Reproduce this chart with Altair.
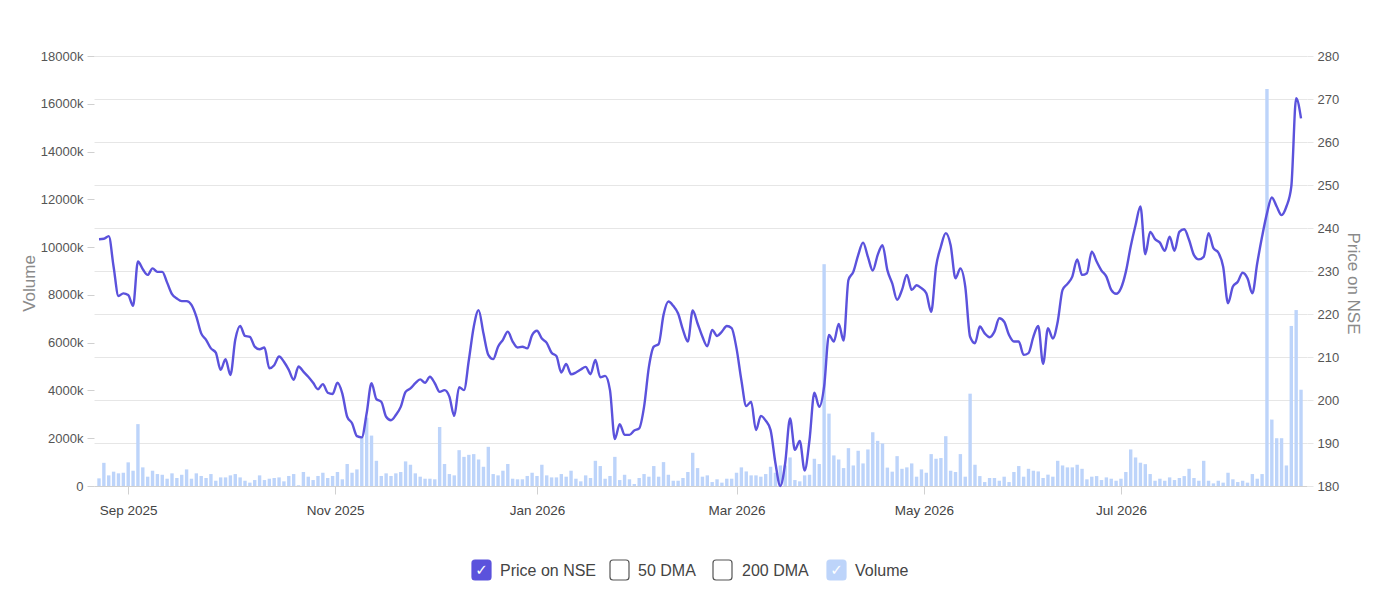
import altair as alt
import pandas as pd

# ---- data (one value per trading day) ----
price = [
    237.4, 237.5, 238.1, 231.0, 224.2, 224.8, 224.4, 221.9, 232.2, 230.4,
    229.1, 230.6, 229.8, 229.8, 227.3, 224.6, 223.6, 223.0, 223.0, 222.1,
    219.4, 215.5, 214.0, 212.0, 211.0, 207.0, 209.5, 205.8, 214.0, 217.2,
    214.9, 214.7, 212.4, 211.8, 212.2, 207.4, 208.1, 210.1, 208.9, 207.0,
    204.7, 207.8, 206.6, 205.4, 204.0, 202.5, 203.7, 201.7, 201.4, 204.0,
    201.5, 196.1, 194.6, 191.6, 191.3, 196.9, 203.9, 200.2, 199.6, 196.1,
    195.3, 196.5, 198.4, 201.9, 202.7, 203.9, 204.8, 204.0, 205.4, 203.9,
    201.9, 202.3, 200.8, 196.3, 203.0, 202.3, 209.3, 217.0, 220.9, 215.5,
    210.5, 209.5, 212.4, 214.0, 215.9, 213.6, 212.2, 212.4, 212.0, 215.1,
    216.1, 214.3, 213.3, 211.0, 210.2, 206.4, 208.4, 206.0, 206.4, 207.1,
    207.7, 206.0, 209.3, 205.3, 205.6, 202.3, 190.9, 194.4, 191.9, 191.9,
    192.9, 193.4, 198.4, 207.7, 212.4, 213.0, 219.8, 222.9, 221.9, 220.1,
    216.3, 213.6, 220.8, 217.8, 214.7, 212.5, 216.3, 214.9, 215.9, 217.2,
    216.7, 212.0, 204.6, 198.6, 199.6, 193.0, 196.3, 195.2, 193.0, 185.3,
    180.0, 185.3, 195.7, 188.4, 190.5, 183.6, 190.7, 201.7, 198.4, 203.1,
    215.1, 213.6, 217.7, 213.8, 227.9, 229.8, 233.7, 236.6, 233.3, 230.1,
    233.7, 236.0, 230.2, 227.1, 223.3, 225.6, 229.1, 225.6, 226.7, 226.0,
    224.8, 220.5, 231.0, 235.7, 238.8, 236.0, 228.3, 230.6, 226.4, 214.7,
    213.2, 217.1, 215.5, 214.6, 215.9, 219.0, 218.2, 215.1, 213.6, 213.6,
    210.5, 210.9, 214.7, 217.2, 208.4, 216.7, 214.3, 218.2, 225.6, 227.0,
    228.7, 232.7, 229.1, 229.5, 234.5, 232.2, 230.1, 228.7, 225.6, 224.7,
    226.0, 229.8, 235.7, 240.7, 245.0, 233.9, 239.1, 237.4, 236.6, 234.7,
    238.0, 234.7, 239.1, 239.7, 237.2, 233.7, 232.7, 233.3, 238.8, 235.3,
    234.3, 231.0, 222.5, 226.4, 227.5, 229.6, 228.3, 224.8, 231.8, 238.0,
    243.4, 247.1, 245.0, 243.0, 245.0, 249.6, 270.2, 265.5,
]

volume_k = [
    320, 970, 445, 600, 530, 555, 990, 640, 2590, 780,
    390, 640, 500, 470, 305, 530, 335, 470, 695, 305,
    530, 420, 335, 500, 220, 360, 360, 445, 500, 360,
    220, 140, 250, 445, 250, 305, 335, 360, 195, 420,
    500, 30, 585, 390, 250, 420, 555, 335, 420, 585,
    280, 920, 555, 695, 2060, 2860, 2110, 1055, 420, 530,
    420, 530, 585, 1030, 890, 530, 390, 305, 305, 280,
    2470, 920, 500, 445, 1500, 1220, 1305, 1335, 1110, 805,
    1640, 500, 445, 640, 920, 305, 280, 280, 420, 555,
    420, 890, 445, 360, 360, 500, 390, 640, 305, 195,
    445, 335, 1055, 835, 305, 420, 1220, 250, 470, 280,
    85, 335, 500, 390, 835, 390, 1000, 470, 220, 220,
    335, 585, 1390, 750, 390, 445, 165, 280, 140, 305,
    305, 555, 780, 610, 445, 445, 390, 500, 805, 555,
    860, 860, 1195, 250, 195, 445, 470, 1140, 920, 9285,
    3030, 1280, 1110, 750, 1585, 860, 1475, 945, 1530, 2250,
    1890, 1780, 770, 600, 1250, 720, 780, 945, 390, 695,
    555, 1335, 1140, 1170, 2085, 640, 585, 1335, 390, 3865,
    890, 415, 165, 335, 335, 220, 390, 165, 585, 835,
    390, 720, 640, 610, 335, 475, 390, 1055, 860, 780,
    780, 890, 720, 280, 390, 415, 250, 360, 305, 220,
    305, 585, 1530, 1195, 975, 915, 500, 220, 305, 220,
    360, 250, 335, 415, 720, 335, 220, 1055, 220, 110,
    220, 140, 555, 280, 165, 220, 140, 500, 305, 500,
    16620, 2780, 2000, 2000, 860, 6700, 7365, 4030,
]

# month starts, as positions on the trading-day index
month_pos = [6, 48.5, 90, 131, 169.5, 210]
month_labels = ["Sep 2025", "Nov 2025", "Jan 2026", "Mar 2026", "May 2026", "Jul 2026"]

legend_labels = ["Price on NSE", "50 DMA", "200 DMA", "Volume"]

df = pd.DataFrame({"day": list(range(len(price))), "price": price, "volume": volume_k})

PRICE_COLOR = "#5b52dc"
VOL_COLOR = "#bdd4fa"
FONT = "Liberation Sans, Arial, Helvetica, sans-serif"

label_expr = " : ".join(
    f"datum.value == {p} ? '{l}'" for p, l in zip(month_pos, month_labels)
) + " : ''"

x_enc = alt.X(
    "day:Q",
    scale=alt.Scale(domain=[0, 247.2], nice=False, zero=False),
    axis=alt.Axis(
        values=month_pos, labelExpr=label_expr, title=None, grid=False,
        domainColor="#d0d0d0", tickColor="#d0d0d0", tickSize=8, labelPadding=9,
        labelFontSize=13.5, labelColor="#444", labelFlush=False, labelOverlap=False,
    ),
)

bars = alt.Chart(df).mark_bar(width=3.4, color=VOL_COLOR, clip=True).encode(
    x=x_enc,
    y=alt.Y(
        "volume:Q",
        scale=alt.Scale(domain=[0, 18000], nice=False),
        axis=alt.Axis(
            orient="left", title="Volume", values=list(range(0, 18001, 2000)),
            labelExpr="datum.value == 0 ? '0' : datum.value + 'k'",
            grid=False, domain=False, tickColor="#d0d0d0", tickSize=7, labelPadding=4,
            labelFontSize=13, labelColor="#555", labelFlush=False,
            titleFontSize=17, titleFontWeight="normal", titleColor="#8a8a8a",
            titleAngle=270, titleX=-65, titleY=227, titleAlign="center", titleBaseline="middle",
        ),
    ),
)

line = alt.Chart(df).mark_line(interpolate="monotone", strokeWidth=2.4, color=PRICE_COLOR).encode(
    x=x_enc,
    y=alt.Y(
        "price:Q",
        scale=alt.Scale(domain=[180, 280], nice=False, zero=False),
        axis=alt.Axis(
            orient="right", title="Price on NSE", values=list(range(180, 281, 10)),
            grid=True, gridColor="#e6e6e6", domain=False, tickColor="#e6e6e6", tickSize=6,
            labelPadding=4, labelFontSize=13, labelColor="#555", labelFlush=False,
            titleFontSize=17, titleFontWeight="normal", titleColor="#8a8a8a",
            titleAngle=90, titleX=45, titleY=227, titleAlign="center", titleBaseline="middle",
        ),
    ),
)

# ---- custom checkbox legend below the plot (layout in pixels) ----
box_x = [378, 516, 619, 733]
text_x = [406, 544, 648, 761]
box_fill = [PRICE_COLOR, "#ffffff", "#ffffff", VOL_COLOR]
box_stroke = [PRICE_COLOR, "#555555", "#555555", VOL_COLOR]
checked = [True, False, False, True]
BOX_W, BOX_TOP, BOX_BOTTOM, TEXT_Y = 19, 504, 524, 514

legend_layers = []
for i, lab in enumerate(legend_labels):
    one = pd.DataFrame({"label": [lab]})
    legend_layers.append(
        alt.Chart(one).mark_rect(
            cornerRadius=3, fill=box_fill[i], stroke=box_stroke[i], strokeWidth=1.2
        ).encode(
            x=alt.value(box_x[i]), x2=alt.value(box_x[i] + BOX_W),
            y=alt.value(BOX_TOP), y2=alt.value(BOX_BOTTOM),
        )
    )
    if checked[i]:
        legend_layers.append(
            alt.Chart(one).mark_text(
                text="✓", color="white", fontSize=15, font="DejaVu Sans",
                align="center", baseline="middle",
            ).encode(x=alt.value(box_x[i] + BOX_W / 2), y=alt.value(TEXT_Y))
        )
    legend_layers.append(
        alt.Chart(one).mark_text(
            align="left", baseline="middle", fontSize=16, color="#444", font=FONT,
        ).encode(text="label:N", x=alt.value(text_x[i]), y=alt.value(TEXT_Y + 1))
    )

chart = (
    alt.layer(bars, line, *legend_layers)
    .resolve_scale(y="independent")
    .properties(
        width=1213,
        height=430,
        autosize=alt.AutoSizeParams(type="none"),
        padding={"left": 86, "top": 48, "right": 62, "bottom": 95},
    )
    .configure(font=FONT, background="white")
    .configure_view(strokeWidth=0, stroke="transparent")
)

chart.save("out.html", embed_options={"renderer": "svg", "actions": False})
